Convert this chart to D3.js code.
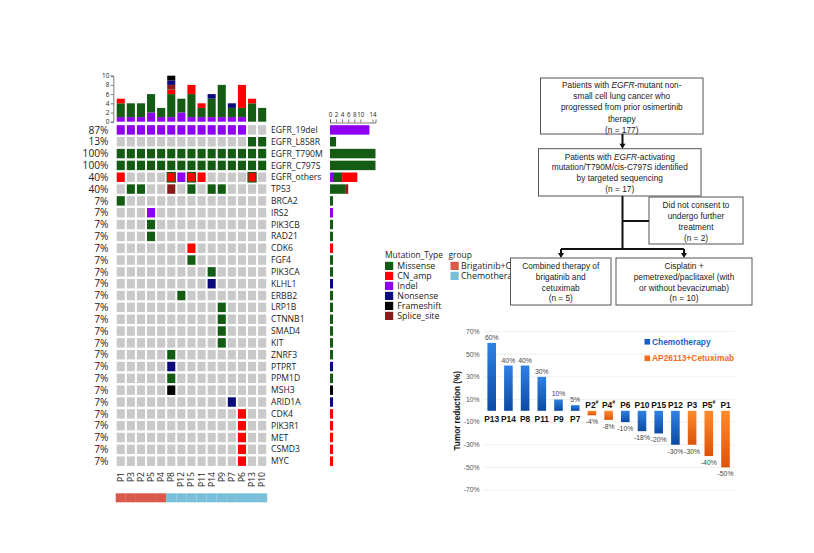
<!DOCTYPE html>
<html>
<head>
<meta charset="utf-8">
<script src="https://cdn.jsdelivr.net/npm/d3@7"></script>
<style>
html, body { margin: 0; padding: 0; background: #fff; overflow: hidden; }
svg { display: block; }
.onco text { font-family: "Open Sans", "DejaVu Sans", sans-serif; fill: #222; }
.flow text, .wf text { font-family: "Liberation Sans", Arial, sans-serif; }
</style>
</head>
<body>
<svg id="chart" width="814" height="553"></svg>
<script>
// ---- oncoprint data ----
const patients = ["P1", "P3", "P2", "P5", "P4", "P8", "P12", "P15", "P11", "P14", "P9", "P7", "P6", "P13", "P10"]
const patientGroup = ["Brigatinib+Cetuximab", "Brigatinib+Cetuximab", "Brigatinib+Cetuximab", "Brigatinib+Cetuximab", "Brigatinib+Cetuximab",
    "Chemotherapy", "Chemotherapy", "Chemotherapy", "Chemotherapy", "Chemotherapy",
    "Chemotherapy", "Chemotherapy", "Chemotherapy", "Chemotherapy", "Chemotherapy"]
const genes = ["EGFR_19del", "EGFR_L858R", "EGFR_T790M", "EGFR_C797S", "EGFR_others", "TP53", "BRCA2", "IRS2",
    "PIK3CB", "RAD21", "CDK6", "FGF4", "PIK3CA", "KLHL1", "ERBB2", "LRP1B", "CTNNB1", "SMAD4", "KIT",
    "ZNRF3", "PTPRT", "PPM1D", "MSH3", "ARID1A", "CDK4", "PIK3R1", "MET", "CSMD3", "MYC"]
const mutationTypes = ["Missense", "CN_amp", "Indel", "Nonsense", "Frameshift", "Splice_site"]
const mutationColors = ["#145c14", "#ff0000", "#9000f0", "#0a0a7c", "#000000", "#8b1a1a"]
const stackOrder = ["Indel", "Missense", "CN_amp", "Splice_site", "Nonsense", "Frameshift"]
const groupNames = ["Brigatinib+Cetuximab", "Chemotherapy"]
const groupColors = ["#d9594c", "#79bfda"]
const topTicks = [0, 2, 4, 6, 8, 10]
const rightTicks = [0, 2, 4, 6, 8, 10, 14]

// [gene, type, patients]
const alterations = [
    ["EGFR_19del", "Indel", ["P1", "P3", "P2", "P5", "P4", "P8", "P12", "P15", "P11", "P14", "P9", "P7", "P6"]],
    ["EGFR_L858R", "Missense", ["P13", "P10"]],
    ["EGFR_T790M", "Missense", ["P1", "P3", "P2", "P5", "P4", "P8", "P12", "P15", "P11", "P14", "P9", "P7", "P6", "P13", "P10"]],
    ["EGFR_C797S", "Missense", ["P1", "P3", "P2", "P5", "P4", "P8", "P12", "P15", "P11", "P14", "P9", "P7", "P6", "P13", "P10"]],
    ["EGFR_others", "Missense", ["P8", "P15", "P13"]],
    ["EGFR_others", "CN_amp", ["P1", "P8", "P15", "P11", "P13"]],
    ["EGFR_others", "Indel", ["P12"]],
    ["TP53", "Missense", ["P3", "P2", "P15", "P14", "P9"]],
    ["TP53", "Splice_site", ["P8"]],
    ["BRCA2", "Missense", ["P1"]],
    ["IRS2", "Indel", ["P5"]],
    ["PIK3CB", "Missense", ["P5"]],
    ["RAD21", "Missense", ["P5"]],
    ["CDK6", "CN_amp", ["P15"]],
    ["FGF4", "Missense", ["P15"]],
    ["PIK3CA", "Missense", ["P14"]],
    ["KLHL1", "Nonsense", ["P14"]],
    ["ERBB2", "Missense", ["P12"]],
    ["LRP1B", "Missense", ["P9"]],
    ["CTNNB1", "Missense", ["P9"]],
    ["SMAD4", "Missense", ["P9"]],
    ["KIT", "Missense", ["P9"]],
    ["ZNRF3", "Missense", ["P8"]],
    ["PTPRT", "Nonsense", ["P8"]],
    ["PPM1D", "Missense", ["P8"]],
    ["MSH3", "Frameshift", ["P8"]],
    ["ARID1A", "Nonsense", ["P7"]],
    ["CDK4", "CN_amp", ["P6"]],
    ["PIK3R1", "CN_amp", ["P6"]],
    ["MET", "CN_amp", ["P6"]],
    ["CSMD3", "CN_amp", ["P6"]],
    ["MYC", "CN_amp", ["P6"]]
]

// ---- flowchart text ----
const flowText = [
    ["Patients with *EGFR*-mutant non-", "small cell lung cancer who", "progressed from prior osimertinib", "therapy", "(n = 177)"],
    ["Patients with *EGFR*-activating", "mutation/T790M/cis-C797S identified", "by targeted sequencing", "(n = 17)"],
    ["Did not consent to", "undergo further", "treatment", "(n = 2)"],
    ["Combined therapy of", "brigatinib and", "cetuximab", "(n = 5)"],
    ["Cisplatin +", "pemetrexed/paclitaxel (with", "or without bevacizumab)", "(n = 10)"]
]

// ---- waterfall data ----
const wfPatients = ["P13", "P14", "P8", "P11", "P9", "P7", "P2", "P4", "P6", "P10", "P15", "P12", "P3", "P5", "P1"]
const wfValues = [60, 40, 40, 30, 10, 5, -4, -8, -10, -18, -20, -30, -30, -40, -50]
const wfArm = ["Chemotherapy", "Chemotherapy", "Chemotherapy", "Chemotherapy", "Chemotherapy", "Chemotherapy",
    "AP26113+Cetuximab", "AP26113+Cetuximab", "Chemotherapy", "Chemotherapy", "Chemotherapy", "Chemotherapy",
    "AP26113+Cetuximab", "AP26113+Cetuximab", "AP26113+Cetuximab"]
const wfMarked = ["P2", "P4", "P5"]
const wfTicks = [70, 50, 30, 10, -10, -30, -50, -70]
const wfArms = ["Chemotherapy", "AP26113+Cetuximab"]


const svg = d3.select("#chart")
const color = d3.scaleOrdinal().domain(mutationTypes).range(mutationColors)
const gColor = d3.scaleOrdinal().domain(groupNames).range(groupColors)

// cell lookup
let cells = new Map()
alterations.forEach(function([gene, type, pts]) {
    pts.forEach(function(p) {
        let key = gene + "|" + p
        cells.set(key, (cells.get(key) || []).concat(type))
    })
})

function countBy(keyList, keyOf) {
    return keyList.map(function(k) {
        let row = {key: k}
        stackOrder.forEach(t => row[t] = 0)
        cells.forEach(function(types, key) {
            if (keyOf(key) === k) types.forEach(t => row[t]++)
        })
        return row
    })
}

const perPatient = countBy(patients, key => key.split("|")[1])
const perGene = countBy(genes, key => key.split("|")[0])
const stack = d3.stack().keys(stackOrder)

const defs = svg.append("defs")

// ================= oncoprint =================
const onco = svg.append("g").attr("class", "onco")

const x = d3.scaleBand().domain(patients).range([115.7, 267.2]).paddingInner(0.2).paddingOuter(0.1)
const y = d3.scaleBand().domain(genes).range([124, 467.1]).paddingInner(0.2).paddingOuter(0.1)

onco.append("g")
    .selectAll("rect")
    .data(d3.cross(genes, patients))
    .join("rect")
    .attr("x", d => x(d[1]))
    .attr("y", d => y(d[0]))
    .attr("width", x.bandwidth())
    .attr("height", y.bandwidth())
    .attr("fill", function(d) {
        let types = cells.get(d[0] + "|" + d[1])
        return types ? color(types[types.length - 1]) : "#c9c9c9"
    })
    .attr("stroke", function(d) {
        let types = cells.get(d[0] + "|" + d[1])
        return types && types.length > 1 ? color(types[0]) : "none"
    })
    .attr("stroke-width", 1.2)

// percentages
onco.append("g")
    .selectAll("text")
    .data(genes)
    .join("text")
    .attr("x", 108.5)
    .attr("y", g => y(g) + y.bandwidth() / 2)
    .attr("dy", "0.36em")
    .attr("text-anchor", "end")
    .attr("font-size", 10.2)
    .text(function(g) {
        let n = patients.filter(p => cells.has(g + "|" + p)).length
        return Math.round(n / patients.length * 100) + "%"
    })

// gene names
onco.append("g")
    .selectAll("text")
    .data(genes)
    .join("text")
    .attr("x", 271)
    .attr("y", g => y(g) + y.bandwidth() / 2)
    .attr("dy", "0.36em")
    .attr("font-size", 8.6)
    .text(g => g)

// top bars
const topY = d3.scaleLinear().domain([0, 10]).range([121.7, 75.7])

onco.append("g")
    .selectAll("g")
    .data(stack(perPatient))
    .join("g")
    .attr("fill", s => color(s.key))
    .selectAll("rect")
    .data(s => s.filter(d => d[1] > d[0]))
    .join("rect")
    .attr("x", d => x(d.data.key))
    .attr("y", d => topY(d[1]))
    .attr("width", x.bandwidth())
    .attr("height", d => topY(d[0]) - topY(d[1]))

onco.append("g")
    .attr("transform", "translate(113.3,0)")
    .call(d3.axisLeft(topY).tickValues(topTicks).tickSize(2.5).tickPadding(1.5))
    .call(g => g.selectAll("text").attr("font-size", 6.4).attr("dy", "0.3em"))
    .call(g => g.selectAll("path,line").attr("stroke", "#444").attr("stroke-width", 0.7))

// right bars
const rightX = d3.scaleLinear().domain([0, 15]).range([330, 375.5])

onco.append("g")
    .selectAll("g")
    .data(stack(perGene))
    .join("g")
    .attr("fill", s => color(s.key))
    .selectAll("rect")
    .data(s => s.filter(d => d[1] > d[0]))
    .join("rect")
    .attr("x", d => rightX(d[0]))
    .attr("y", d => y(d.data.key))
    .attr("width", d => rightX(d[1]) - rightX(d[0]))
    .attr("height", y.bandwidth())

onco.append("g")
    .attr("transform", "translate(0,122.5)")
    .call(d3.axisTop(rightX).tickValues(rightTicks).tickSize(3).tickPadding(3))
    .call(g => g.selectAll("text").attr("font-size", 6.2))
    .call(g => g.selectAll("path,line").attr("stroke", "#444").attr("stroke-width", 0.7))

// patient labels
onco.append("g")
    .selectAll("text")
    .data(patients)
    .join("text")
    .attr("transform", p => `translate(${x(p) + x.bandwidth() / 2},472) rotate(-90)`)
    .attr("dy", "0.35em")
    .attr("text-anchor", "end")
    .attr("font-size", 8.6)
    .text(p => p)

// group annotation
onco.append("g")
    .selectAll("rect")
    .data(patients)
    .join("rect")
    .attr("x", p => x(p) - x.step() * x.paddingInner() / 2)
    .attr("y", 493.3)
    .attr("width", x.step())
    .attr("height", 9)
    .attr("fill", (p, i) => gColor(patientGroup[i]))

// legends (the group labels run under the flowchart boxes, as in the figure)
defs.append("clipPath").attr("id", "legclip")
    .append("rect").attr("x", 380).attr("y", 240).attr("width", 130).attr("height", 90)

const legend = onco.append("g").attr("clip-path", "url(#legclip)")

legend.append("text").attr("x", 385).attr("y", 257.5).attr("font-size", 8.4).text("Mutation_Type")
legend.append("text").attr("x", 448.5).attr("y", 257.5).attr("font-size", 8.4).text("group")

legend.selectAll(".mt")
    .data(mutationTypes)
    .join("g")
    .attr("class", "mt")
    .attr("transform", (t, i) => `translate(385,${261.8 + i * 10})`)
    .call(g => g.append("rect").attr("width", 8.2).attr("height", 8.2).attr("fill", t => color(t)))
    .call(g => g.append("text").attr("x", 12.3).attr("y", 4.2).attr("dy", "0.36em").attr("font-size", 8.8).text(t => t))

legend.selectAll(".gr")
    .data(groupNames)
    .join("g")
    .attr("class", "gr")
    .attr("transform", (t, i) => `translate(450.5,${261.8 + i * 10})`)
    .call(g => g.append("rect").attr("width", 8.2).attr("height", 8.2).attr("fill", t => gColor(t)))
    .call(g => g.append("text").attr("x", 10.5).attr("y", 4.2).attr("dy", "0.36em").attr("font-size", 8.8).text(t => t))

// ================= flowchart =================
const flow = svg.append("g").attr("class", "flow")
const boxes = [
    {x: 540.5, y: 78, w: 162.5, h: 56, base: 88, step: 11.2},
    {x: 538.5, y: 148.7, w: 162.5, h: 47.3, base: 159.5, step: 10.8},
    {x: 649, y: 197, w: 94, h: 47, base: 208, step: 11},
    {x: 510.5, y: 258, w: 100.5, h: 47, base: 269, step: 10.8},
    {x: 616, y: 258, w: 136, h: 47, base: 269, step: 10.8}
]

boxes.forEach(function(b, i) {
    flow.append("rect")
        .attr("x", b.x).attr("y", b.y).attr("width", b.w).attr("height", b.h)
        .attr("fill", "#fff").attr("stroke", "#555").attr("stroke-width", 1)

    flowText[i].forEach(function(line, j) {
        let t = flow.append("text")
            .attr("x", b.x + b.w / 2)
            .attr("y", b.base + j * b.step)
            .attr("text-anchor", "middle")
            .attr("font-size", 8.3)
            .attr("fill", "#222")

        line.split("*").forEach(function(part, k) {
            if (part === "") return
            t.append("tspan").attr("font-style", k % 2 ? "italic" : "normal").text(part)
        })
    })
})

function arrow(x0, y0, y1) {
    flow.append("line").attr("x1", x0).attr("x2", x0).attr("y1", y0).attr("y2", y1 - 4)
        .attr("stroke", "#111").attr("stroke-width", 2)
    flow.append("path").attr("d", `M${x0 - 3},${y1 - 5}L${x0 + 3},${y1 - 5}L${x0},${y1}Z`).attr("fill", "#111")
}

arrow(622.5, 134, 148.7)
flow.append("path")
    .attr("d", "M622.5,196V249M622.5,221H649M561,249H684")
    .attr("fill", "none").attr("stroke", "#111").attr("stroke-width", 2)
arrow(561, 249, 258)
arrow(684, 249, 258)

// ================= waterfall =================
const wf = svg.append("g").attr("class", "wf")
const wy = d3.scaleLinear().domain([-70, 70]).range([490, 331.6])
const wx = d3.scalePoint().domain(wfPatients).range([491.7, 725.5])
const barW = 8.6

const gradStops = {"Chemotherapy": ["#2e82e4", "#0c4aa3"], "AP26113+Cetuximab": ["#ff8a2c", "#dc540a"]}
wfArms.forEach(function(arm, i) {
    let gr = defs.append("linearGradient").attr("id", "wg" + i).attr("x1", 0).attr("x2", 0).attr("y1", 0).attr("y2", 1)
    gr.append("stop").attr("offset", "0%").attr("stop-color", gradStops[arm][0])
    gr.append("stop").attr("offset", "100%").attr("stop-color", gradStops[arm][1])
})
const armFill = arm => "url(#wg" + wfArms.indexOf(arm) + ")"
const armColor = d3.scaleOrdinal().domain(wfArms).range(["#1c5fc4", "#f26c1c"])

wf.append("g")
    .selectAll("line")
    .data(wfTicks)
    .join("line")
    .attr("x1", 484).attr("x2", 735)
    .attr("y1", d => wy(d)).attr("y2", d => wy(d))
    .attr("stroke", "#ececec").attr("stroke-width", 0.8)

wf.append("g")
    .selectAll("text")
    .data(wfTicks)
    .join("text")
    .attr("x", 479.5)
    .attr("y", d => wy(d))
    .attr("dy", "0.35em")
    .attr("text-anchor", "end")
    .attr("font-size", 6.8)
    .attr("fill", "#555")
    .text(d => d + "%")

wf.append("text")
    .attr("transform", `translate(459.5,${wy(0)}) rotate(-90)`)
    .attr("text-anchor", "middle")
    .attr("font-size", 8.2)
    .attr("font-weight", "bold")
    .attr("fill", "#111")
    .text("Tumor reduction (%)")

const bars = wfPatients.map((p, i) => ({p: p, v: wfValues[i], arm: wfArm[i]}))

wf.append("g")
    .selectAll("rect")
    .data(bars)
    .join("rect")
    .attr("x", d => wx(d.p) - barW / 2)
    .attr("y", d => wy(Math.max(0, d.v)))
    .attr("width", barW)
    .attr("height", d => Math.abs(wy(d.v) - wy(0)))
    .attr("fill", d => armFill(d.arm))

// value labels
wf.append("g")
    .selectAll("text")
    .data(bars)
    .join("text")
    .attr("x", d => wx(d.p))
    .attr("y", d => d.v >= 0 ? wy(d.v) - 3 : wy(d.v) + 9)
    .attr("text-anchor", "middle")
    .attr("font-size", 6.8)
    .attr("fill", "#444")
    .text(d => d.v + "%")

// patient labels
wf.append("g")
    .selectAll("text")
    .data(bars)
    .join("text")
    .attr("x", d => wx(d.p))
    .attr("y", d => d.v >= 0 ? wy(0) + 11.5 : wy(0) - 2.5)
    .attr("text-anchor", "middle")
    .attr("font-size", 8.4)
    .attr("font-weight", "bold")
    .attr("fill", "#111")
    .each(function(d) {
        let t = d3.select(this)
        t.append("tspan").text(d.p)
        if (wfMarked.includes(d.p)) {
            t.append("tspan").attr("font-size", 5.2).attr("dy", -4).text("#")
        }
    })

// legend
wf.append("g")
    .selectAll("g")
    .data(wfArms)
    .join("g")
    .attr("transform", (a, i) => `translate(644.5,${339 + i * 16.5})`)
    .call(g => g.append("rect").attr("width", 5.6).attr("height", 5.6).attr("fill", a => armColor(a)))
    .call(g => g.append("text").attr("x", 7.5).attr("y", 2.8).attr("dy", "0.36em")
        .attr("font-size", 8.4).attr("font-weight", "bold").attr("fill", a => armColor(a)).text(a => a))
</script>
</body>
</html>
